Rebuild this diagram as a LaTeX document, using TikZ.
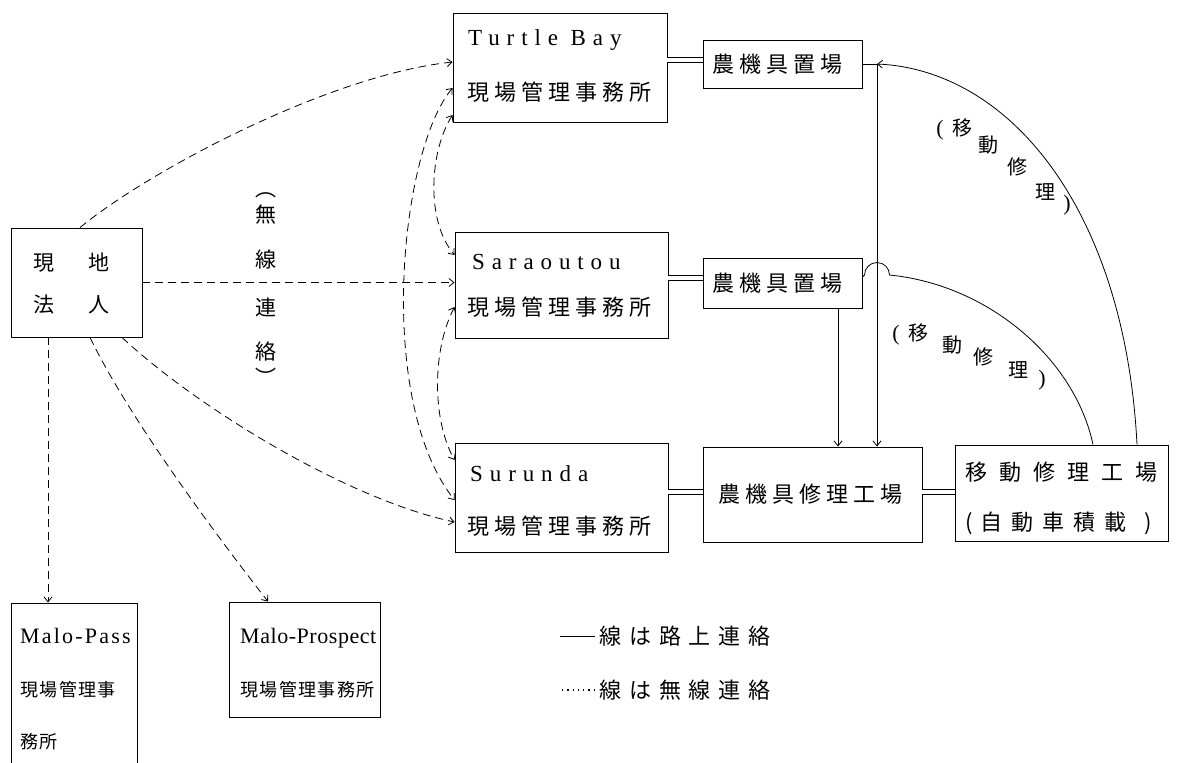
\documentclass[tikz,border=0pt]{standalone}
\usepackage{fontspec}
\setmainfont{Liberation Serif}
\newfontfamily\jp{Noto Sans CJK JP}
\newfontfamily\jpsp[LetterSpace=23]{Noto Sans CJK JP}
\newfontfamily\jpwide[LetterSpace=55]{Noto Sans CJK JP}
\newfontfamily\jpmid[LetterSpace=41]{Noto Sans CJK JP}
\newfontfamily\jpleg[LetterSpace=36]{Noto Sans CJK JP}
\newfontfamily\jpsm[LetterSpace=8]{Noto Sans CJK JP}
\newfontfamily\latsp[LetterSpace=30]{Liberation Serif}
\newfontfamily\latmp[LetterSpace=10]{Liberation Serif}
\newfontfamily\latmr[LetterSpace=2.5]{Liberation Serif}
\usetikzlibrary{arrows.meta,calc}
\tikzset{
  box/.style={draw, line width=0.9pt, inner sep=0pt},
  jt/.style={font=\jpsp\fontsize{22}{22}\selectfont, inner sep=0pt, anchor=west},
  jc/.style={font=\jp\fontsize{21}{21}\selectfont, inner sep=0pt},
  lt/.style={font=\latsp\fontsize{23}{23}\selectfont, inner sep=0pt, anchor=base west},
  ls/.style={font=\latmp\fontsize{22}{22}\selectfont, inner sep=0pt, anchor=base west},
  js/.style={font=\jpsm\fontsize{18}{18}\selectfont, inner sep=0pt, anchor=west},
  ln/.style={line width=0.8pt},
  dsh/.style={line width=0.8pt, dash pattern=on 8pt off 5pt},
  dbl/.style={double distance=3.5pt, line width=0.8pt},
  >={Straight Barb[length=5pt,width=8pt]}
}
\begin{document}
\begin{tikzpicture}[x=1pt,y=-1pt]
\useasboundingbox (0,0) rectangle (1178,763);
\clip (0,0) rectangle (1178,763);
% boxes
\node[box, minimum width=131pt, minimum height=109pt] (genchi) at (76.5,282.5) {};
\node[box, minimum width=214pt, minimum height=109pt] (tb) at (560,67.5) {};
\node[box, minimum width=159pt, minimum height=48pt] (yd1) at (782.5,64) {};
\node[box, minimum width=213pt, minimum height=106pt] (sar) at (561.5,285) {};
\node[box, minimum width=159pt, minimum height=50pt] (yd2) at (782.5,283) {};
\node[box, minimum width=213pt, minimum height=109pt] (sur) at (561.5,497.5) {};
\node[box, minimum width=219pt, minimum height=95pt] (rep) at (812.5,494.5) {};
\node[box, minimum width=213pt, minimum height=96pt] (mob) at (1061.5,493) {};
\node[box, minimum width=126pt, minimum height=177pt] (mpass) at (74,691.5) {};
\node[box, minimum width=151pt, minimum height=115pt] (mpros) at (304.5,659.5) {};
% texts
\node[jc] (g1) at (71.5,263) {現\hspace{35pt}地};
\node[jc] (g2) at (71.5,305) {法\hspace{35pt}人};
\node[lt] (tbt1) at (468,45) {Turtle Bay};
\node[jt] (tbt2) at (467,92) {現場管理事務所};
\node[lt] (sart1) at (472,269) {Saraoutou};
\node[jt] (sart2) at (467,307) {現場管理事務所};
\node[lt] (surt1) at (470,481) {Surunda};
\node[jt] (surt2) at (467,526) {現場管理事務所};
\node[jt] (yd1t) at (712,64) {農機具置場};
\node[jt] (yd2t) at (712,283) {農機具置場};
\node[jt] (rept) at (718,494) {農機具修理工場};
\node[jt, font=\jpwide\fontsize{22}{22}\selectfont] (mobt1) at (965,472) {移動修理工場};
\node[jt, font=\jpmid\fontsize{22}{22}\selectfont] (mobt2) at (965,523) {(\hspace{8pt}自動車積載\hspace{18pt})};
\node[ls] (mpt1) at (20,643) {Malo-Pass};
\node[js] (mpt2) at (20,690) {現場管理事};
\node[js] (mpt3) at (20,742) {務所};
\node[ls, font=\latmr\fontsize{22}{22}\selectfont] (mrt1) at (240,643) {Malo-Prospect};
\node[js] (mrt2) at (240,690) {現場管理事務所};
\node[jt, font=\jpleg\fontsize{22}{22}\selectfont] (leg1) at (599,636) {線は路上連絡};
\node[jt, font=\jpleg\fontsize{22}{22}\selectfont] (leg2) at (599,690) {線は無線連絡};
% vertical label
\node[jc] (w0) at (266,195) {︵};
\node[jc] (w1) at (266,215) {無};
\node[jc] (w2) at (266,260) {線};
\node[jc] (w3) at (266,307) {連};
\node[jc] (w4) at (266,352) {絡};
\node[jc] (w5) at (266,377) {︶};
% arc labels
\node[jc, font=\fontsize{22}{22}\selectfont] (a0) at (940,130) {(};
\node[jc, font=\jp\fontsize{20}{20}\selectfont] (a1) at (962,128) {移};
\node[jc, font=\jp\fontsize{20}{20}\selectfont] (a2) at (988,145) {動};
\node[jc, font=\jp\fontsize{20}{20}\selectfont] (a3) at (1017,167) {修};
\node[jc, font=\jp\fontsize{20}{20}\selectfont] (a4) at (1045,192) {理};
\node[jc, font=\fontsize{22}{22}\selectfont] (a5) at (1067,205) {)};
\node[jc, font=\fontsize{22}{22}\selectfont] (b0) at (896,335) {(};
\node[jc, font=\jp\fontsize{20}{20}\selectfont] (b1) at (918,333) {移};
\node[jc, font=\jp\fontsize{20}{20}\selectfont] (b2) at (952,345) {動};
\node[jc, font=\jp\fontsize{20}{20}\selectfont] (b3) at (983,357) {修};
\node[jc, font=\jp\fontsize{20}{20}\selectfont] (b4) at (1018,370) {理};
\node[jc, font=\fontsize{22}{22}\selectfont] (b5) at (1042,380) {)};
% coordinates
\coordinate (v1x) at (838,0);
\coordinate (v2x) at (877,0);
% dashed from genchi
\draw[dsh,->] ($(genchi.north)+(3.5,0)$) .. controls (150,170) and (330,75) .. ($(tb.west)+(0,-5.5)$);
\draw[dsh,->] (genchi.east) -- (genchi.east -| sar.west);
\draw[dsh,->] ($(genchi.south)+(45.5,0)$) .. controls (200,410) and (350,500) .. ($(sur.west)+(0,24.5)$);
\draw[dsh,->] ($(genchi.south)+(-28.5,0)$) -- ($(mpass.north)+(-26,0)$);
\draw[dsh,->] ($(genchi.south)+(13.5,0)$) .. controls (130,420) and (220,540) .. ($(mpros.north)+(-36.5,0)$);
% dashed between offices
\draw[dsh,<->] ($(tb.west)+(0,20.5)$) .. controls (400,150) and (375,400) .. ($(sur.west)+(0,2.5)$);
\draw[dsh,<->] ($(tb.west)+(0,47.5)$) .. controls (430,150) and (425,220) .. ($(sar.west)+(0,-30)$);
\draw[dsh,<->] ($(sar.west)+(0,22)$) .. controls (432,350) and (432,420) .. ($(sur.west)+(0,-37.5)$);
% double lines
\draw[dbl] ($(yd1.west)+(0,-4)$) -- ($(yd1.west -| tb.east)+(0,-4)$);
\draw[dbl] ($(yd2.west)+(0,-5)$) -- ($(yd2.west -| sar.east)+(0,-5)$);
\draw[dbl] ($(rep.west)+(0,-2.5)$) -- ($(rep.west -| sur.east)+(0,-2.5)$);
\draw[dbl] ($(rep.east)+(0,-2.5)$) -- ($(rep.east -| mob.west)+(0,-2.5)$);
% solid
\draw[ln,->] (yd2.south -| v1x) -- (rep.north -| v1x);
\draw[ln,->] (yd1.east) -- (yd1.east -| v2x) -- (rep.north -| v2x);
\draw[ln,->] ($(mob.north)+(75.5,0)$) .. controls (1125,210) and (1010,70) .. (yd1.east -| v2x);
\draw[ln] ($(mob.north)+(31.5,0)$) .. controls (1075,360) and (990,285) .. (889.5,275) arc[start angle=0,end angle=-180,radius=12.5] -- ($(yd2.east)+(0,-6)$);
% legend
\draw[ln] ($(leg1.west)+(-4,0)$) -- ++(-35,0);
\draw[line width=1.3pt, dash pattern=on 1.3pt off 4pt] ($(leg2.west)+(-4,0)$) -- ++(-35,0);
\end{tikzpicture}
\end{document}
